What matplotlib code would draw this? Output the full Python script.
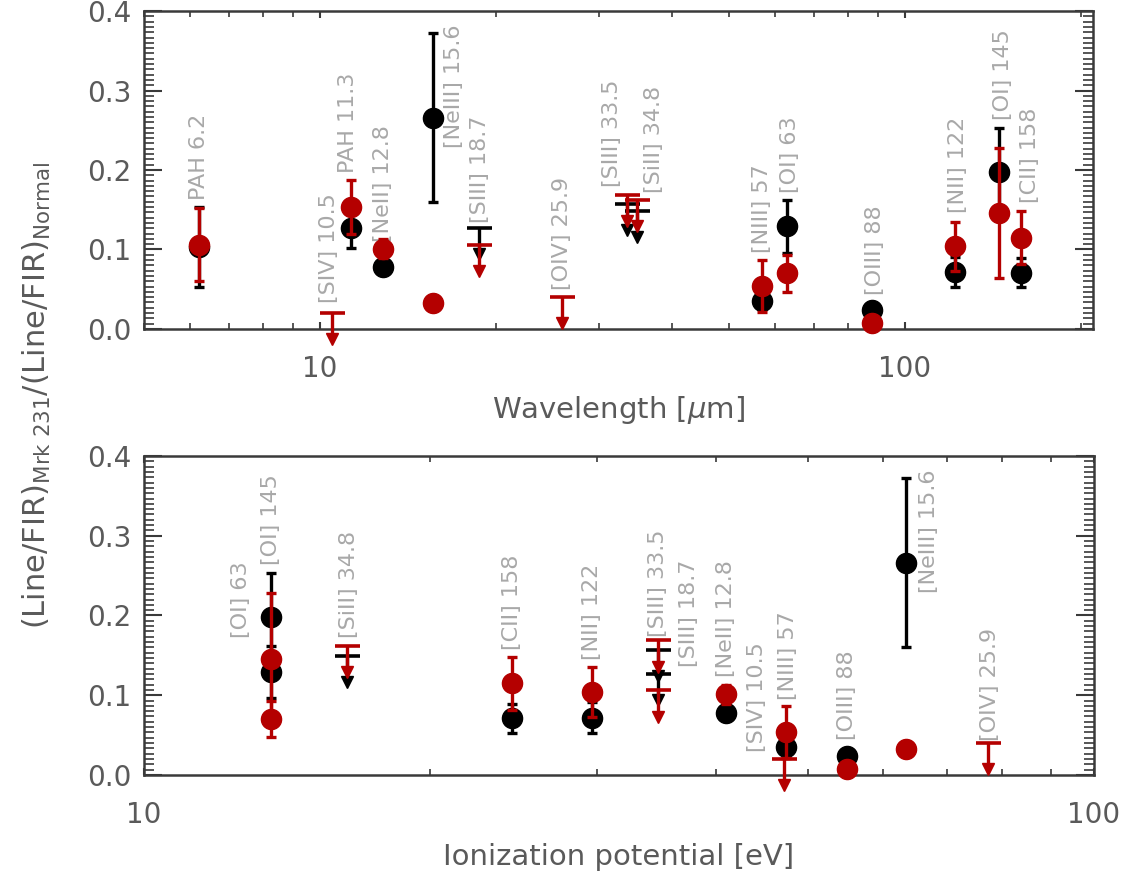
#!/usr/bin/env python3
## plot.py - line/FIR ratios of Mrk 231 vs normal galaxies
import numpy as np
import matplotlib
matplotlib.use('Agg')
import matplotlib.pyplot as plt
from matplotlib.ticker import FixedLocator, NullFormatter, LogLocator, MultipleLocator

## data
lines = ['PAH 6.2', '[SIV] 10.5', 'PAH 11.3', '[NeII] 12.8', '[NeIII] 15.6',
         '[SIII] 18.7', '[OIV] 25.9', '[SIII] 33.5', '[SiII] 34.8', '[NIII] 57',
         '[OI] 63', '[OIII] 88', '[NII] 122', '[OI] 145', '[CII] 158']
wave = [6.2, 10.5, 11.3, 12.8, 15.6, 18.7, 25.9, 33.5, 34.8, 57, 63, 88, 122, 145, 158]
ion_pot = [np.nan, 47.22, np.nan, 40.96, 63.45, 34.79, 77.41, 34.79, 16.35, 47.45,
           13.62, 54.93, 29.60, 13.62, 24.38]

black_val = [0.103, np.nan, 0.127, 0.078, 0.266, 0.127, np.nan, 0.157, 0.149, 0.035,
             0.129, 0.024, 0.072, 0.198, 0.071]
black_err = [0.050, 0, 0.025, 0.008, 0.106, 0, 0, 0, 0, 0.010,
             0.033, 0.004, 0.019, 0.055, 0.018]
black_lim = [0, 0, 0, 0, 0, 1, 0, 1, 1, 0, 0, 0, 0, 0, 0]

red_val = [0.106, 0.020, 0.154, 0.101, 0.033, 0.106, 0.040, 0.169, 0.162, 0.054,
           0.070, 0.008, 0.104, 0.146, 0.115]
red_err = [0.046, 0, 0.034, 0.012, 0.003, 0, 0, 0, 0, 0.033,
           0.023, 0.003, 0.031, 0.082, 0.033]
red_lim = [0, 1, 0, 0, 0, 1, 1, 1, 1, 0, 0, 0, 0, 0, 0]

# where each line label starts (data y) and its sideways shift in pixels
top_lab_y = [0.162, 0.033, 0.196, 0.110, 0.228, 0.133, 0.049, 0.179, 0.171, 0.096,
             0.171, 0.043, 0.146, 0.263, 0.158]
top_lab_dx = [0, -3, -3, 0, 21, 1, 0, -15, 17, 0, 3, 3, 3, 4, 9]
bot_lab_y = [np.nan, 0.029, np.nan, 0.123, 0.228, 0.135, 0.042, 0.173, 0.172, 0.094,
             0.172, 0.044, 0.144, 0.263, 0.157]
bot_lab_dx = [0, -27, 0, 0, 23, 31, 2, 0, 2, 2, -30, 0, 0, 0, 0]

RED = '#b40000'
BLACK = '#000000'
LABEL_GRAY = '#a8a8a8'
TEXT_GRAY = '#5a5a5a'
ARROW = 0.033      # length of the upper-limit arrows

plt.rcParams['font.family'] = ['DejaVu Sans']


def draw_uplim(ax, x, y, color, z):
    ax.plot([x], [y], marker='_', ms=18, mew=2.6, color=color, zorder=z, clip_on=False)
    ax.vlines(x, y - ARROW, y, color=color, lw=2.4, zorder=z, clip_on=False)
    ax.plot([x], [y - ARROW], marker='v', ms=9, color=color, zorder=z, clip_on=False)


def draw_series(ax, xs, vals, errs, lims, color, z):
    for x, v, e, lim in zip(xs, vals, errs, lims):
        if np.isnan(x) or np.isnan(v):
            continue
        if lim:
            draw_uplim(ax, x, v, color, z)
        else:
            ax.errorbar([x], [v], yerr=[e], fmt='o', ms=14.5, color=color,
                        ecolor=color, elinewidth=2.4, capsize=3.5, capthick=2.4,
                        zorder=z, clip_on=False)


def style_axis(ax, xlo, xhi):
    ax.set_xscale('log')
    ax.set_xlim(xlo, xhi)
    ax.set_ylim(0, 0.4)
    ax.xaxis.set_major_locator(FixedLocator([10, 100]))
    ax.set_xticklabels(['10', '100'])
    ax.xaxis.set_minor_locator(LogLocator(subs=np.arange(2, 10)))
    ax.xaxis.set_minor_formatter(NullFormatter())
    ax.yaxis.set_major_locator(MultipleLocator(0.1))
    ax.yaxis.set_minor_locator(MultipleLocator(0.1 / 15))
    ax.yaxis.set_major_formatter(plt.FuncFormatter(lambda v, p: '%.1f' % v))
    ax.tick_params(which='both', direction='in', top=True, right=True,
                   colors='#3a3a3a', labelcolor=TEXT_GRAY, labelsize=20)
    ax.tick_params(axis='y', which='major', length=13, width=1.5, pad=9)
    ax.tick_params(axis='y', which='minor', length=7, width=1.2)
    ax.tick_params(axis='x', which='major', length=5, width=1.5, pad=19)
    ax.tick_params(axis='x', which='minor', length=4, width=1.2)
    for s in ax.spines.values():
        s.set_linewidth(1.8)
        s.set_color('#3a3a3a')


def add_labels(ax, xs, ys, dxs):
    for name, x, y, dx in zip(lines, xs, ys, dxs):
        if np.isnan(x) or np.isnan(y):
            continue
        ax.annotate(name, xy=(x, y), xytext=(dx * 0.72, 0), textcoords='offset points',
                    rotation=90, ha='center', va='bottom', fontsize=16,
                    color=LABEL_GRAY, annotation_clip=False)


fig = plt.figure(figsize=(11.41, 8.74), dpi=100)
ax1 = fig.add_axes([0.1262, 0.6236, 0.8318, 0.3638])
ax2 = fig.add_axes([0.1262, 0.1133, 0.8326, 0.3650])

## top panel: against wavelength
style_axis(ax1, 5, 210)
draw_series(ax1, wave, black_val, black_err, black_lim, BLACK, 3)
draw_series(ax1, wave, red_val, red_err, red_lim, RED, 4)
add_labels(ax1, wave, top_lab_y, top_lab_dx)
ax1.set_xlabel(r'Wavelength [$\mu$m]', fontsize=21, color=TEXT_GRAY, labelpad=8)

## bottom panel: against ionization potential
style_axis(ax2, 10, 100)
draw_series(ax2, ion_pot, black_val, black_err, black_lim, BLACK, 3)
draw_series(ax2, ion_pot, red_val, red_err, red_lim, RED, 4)
add_labels(ax2, ion_pot, bot_lab_y, bot_lab_dx)
ax2.set_xlabel('Ionization potential [eV]', fontsize=21, color=TEXT_GRAY, labelpad=10)

fig.text(0.032, 0.548, r'(Line/FIR)$_{\rm Mrk\ 231}$/(Line/FIR)$_{\rm Normal}$',
         rotation=90, ha='center', va='center', fontsize=22, color=TEXT_GRAY)

fig.savefig('out.png', dpi=100)
